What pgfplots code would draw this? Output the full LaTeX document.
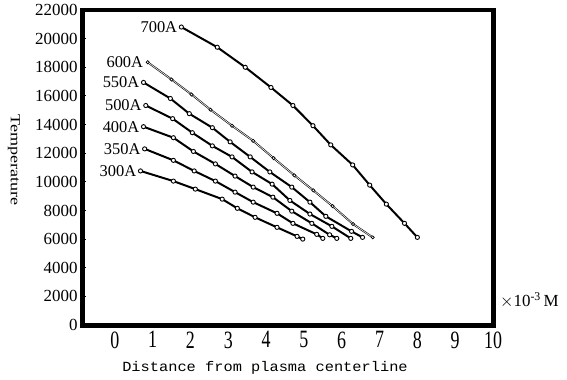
\documentclass[border=0pt]{standalone}
\usepackage{pgfplots}
\pgfplotsset{compat=1.18}
\usepackage{graphicx}
\usepackage{fontspec}
\setmainfont{Liberation Serif}
\setmonofont{Liberation Mono}
\tikzset{cur/.style={black, solid, line width=2pt, mark=*, mark size=2.1pt, mark options={solid, fill=white, draw=black, line width=0.9pt}}}
\begin{document}
\begin{tikzpicture}
\begin{axis}[
  name=ax,
  scale only axis, width=410bp, height=315bp,
  xmin=-0.84, xmax=10, ymin=0, ymax=22000,
  xtick={0,...,10}, ytick={0,2000,...,22000},
  tick style={black, line width=1pt},
  major tick length=2.5bp,
  tick align=inside,
  scaled y ticks=false,
  /pgf/number format/assume math mode=true,
  /pgf/number format/1000 sep={},
  yticklabel style={font=\fontsize{17}{17}\selectfont, xshift=-2bp},
  xticklabel style={font=\fontsize{25}{25}\selectfont, yshift=-3bp},
  xticklabel={\scalebox{0.72}[1]{\pgfmathprintnumber{\tick}}},
  clip=false,
]
% 700A
\addplot[cur] coordinates {(1.76,20810)(2.71,19400)(3.45,18000)(4.13,16590)(4.71,15330)(5.24,13920)(5.71,12580)(6.29,11180)(6.74,9770)(7.18,8440)(7.66,7100)(8.0,6120)};
% 600A
\addplot[black, line width=0.6pt, double=white, double distance=0.6pt, mark=*, mark size=1.6pt, mark options={solid, fill=white, draw=black, line width=0.7pt, double=none}] coordinates {(0.87,18350)(1.5,17150)(2.03,16100)(2.53,15040)(3.1,13920)(3.66,12860)(4.2,11650)(4.75,10450)(5.25,9400)(5.76,8300)(6.3,7050)(6.82,6120)};
% 550A
\addplot[cur] coordinates {(0.76,16940)(1.47,15820)(1.97,14760)(2.58,13780)(3.05,12790)(3.58,11740)(4.1,10690)(4.68,9630)(5.16,8580)(5.58,7590)(6.26,6540)(6.55,6120)};
% 500A
\addplot[cur] coordinates {(0.82,15330)(1.53,14410)(2.05,13430)(2.58,12510)(3.1,11740)(3.63,10690)(4.16,9840)(4.63,8700)(5.16,7750)(5.74,6890)(6.24,6050)};
% 400A
\addplot[cur] coordinates {(0.76,13850)(1.55,13080)(2.08,12120)(2.66,11250)(3.18,10400)(3.66,9630)(4.18,8930)(4.68,7950)(5.21,7100)(5.68,6300)(5.87,6050)};
% 350A
\addplot[cur] coordinates {(0.79,12300)(1.55,11500)(2.1,10760)(2.66,10050)(3.18,9280)(3.66,8580)(4.29,7800)(4.71,7100)(5.34,6330)(5.5,6050)};
% 300A
\addplot[cur] coordinates {(0.68,10760)(1.55,10050)(2.13,9490)(2.84,8790)(3.24,8150)(3.71,7520)(4.29,6820)(4.82,6190)(4.97,6000)};

\begin{scope}[every node/.style={anchor=east, inner sep=1bp, font=\fontsize{16.5}{16.5}\selectfont}]
\node at (axis cs:1.68,20810) {700A};
\node at (axis cs:0.78,18350) {600A};
\node at (axis cs:0.68,16940) {550A};
\node at (axis cs:0.74,15330) {500A};
\node at (axis cs:0.68,13850) {400A};
\node at (axis cs:0.71,12300) {350A};
\node at (axis cs:0.60,10760) {300A};
\end{scope}
\end{axis}
\fill[black] (-2.5bp,-2.5bp) rectangle (412.5bp,2bp);
\fill[black] (-2.5bp,-2.5bp) rectangle (2bp,317bp);
\fill[black] (-2.5bp,313bp) rectangle (412.5bp,317bp);
\fill[black] (408bp,-2.5bp) rectangle (413bp,317bp);
\node[rotate=-90, font=\fontsize{14}{14}\selectfont] at (-69bp,165bp) {\scalebox{1.3}[1]{Temperature}};
\node[font=\ttfamily\fontsize{14}{14}\selectfont] at (182bp,-43bp) {\scalebox{1.1}[1]{Distance from plasma centerline}};
\node[anchor=west, font=\fontsize{17}{17}\selectfont, inner sep=0pt] at (417bp,25bp) {$\times$10\textsuperscript{-3}\,M};
\pgfresetboundingbox
\path (-83bp,-55bp) rectangle (484bp,325bp);
\end{tikzpicture}
\end{document}
